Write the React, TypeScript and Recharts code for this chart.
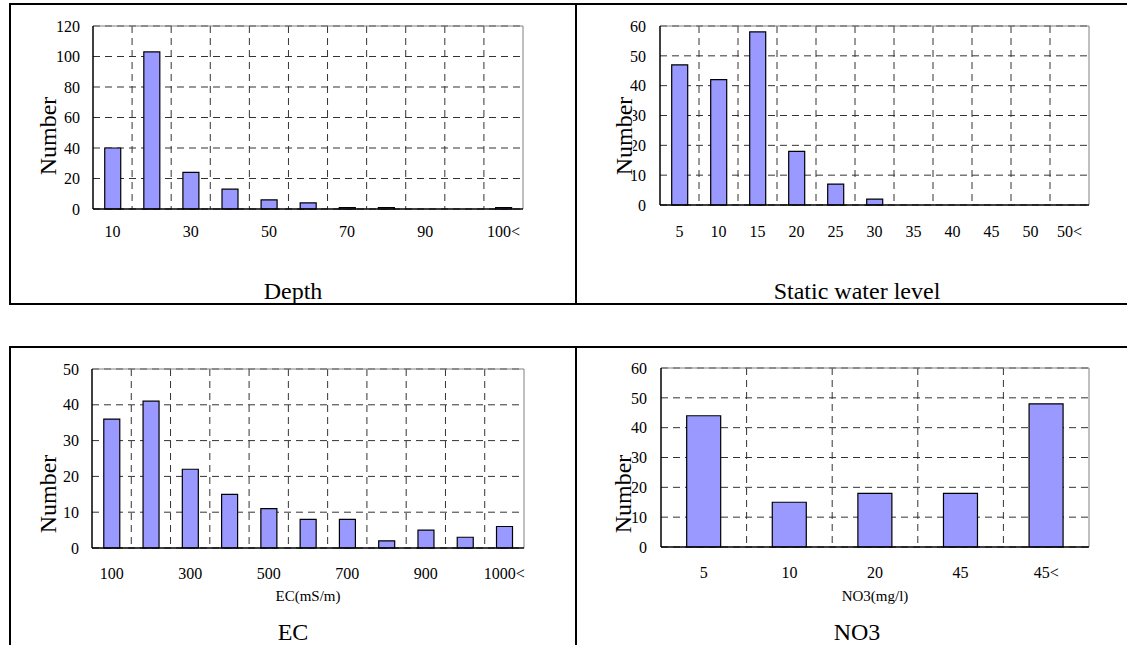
import { BarChart, Bar, XAxis, YAxis, CartesianGrid } from "recharts";

const depthCategories = ["10", "20", "30", "40", "50", "60", "70", "80", "90", "100", "100<"];
const depthValues = [40, 103, 24, 13, 6, 4, 1, 1, 0, 0, 1];
const depthTicks = [0, 20, 40, 60, 80, 100, 120];

const levelCategories = ["5", "10", "15", "20", "25", "30", "35", "40", "45", "50", "50<"];
const levelValues = [47, 42, 58, 18, 7, 2, 0, 0, 0, 0, 0];
const levelTicks = [0, 10, 20, 30, 40, 50, 60];

const ecCategories = ["100", "200", "300", "400", "500", "600", "700", "800", "900", "1000", "1000<"];
const ecValues = [36, 41, 22, 15, 11, 8, 8, 2, 5, 3, 6];
const ecTicks = [0, 10, 20, 30, 40, 50];

const no3Categories = ["5", "10", "20", "45", "45<"];
const no3Values = [44, 15, 18, 18, 48];
const no3Ticks = [0, 10, 20, 30, 40, 50, 60];

const FONT = "Liberation Serif, Times New Roman, serif";

// dashed lines on the category boundaries, like Excel's "between categories" grid
const boundaries = (n: number) => ({ offset }: any) =>
  Array.from({ length: n - 1 }, (_, i) => offset.left + ((i + 1) * offset.width) / n);

type PanelProps = {
  categories: string[];
  values: number[];
  ticks: number[];
  x: number;
  y: number;
  width: number;
  height: number;
  margin: { top: number; right: number; bottom: number; left: number };
  tickGap: number;
  yGap: number;
  interval: number;
};

function Panel({ categories, values, ticks, x, y, width, height, margin, tickGap, yGap, interval }: PanelProps) {
  const data = categories.map((c, i) => ({ name: c, count: values[i] }));
  const n = categories.length;
  return (
    <div style={{ position: "absolute", left: x, top: y }}>
      <BarChart
        width={width}
        height={height}
        data={data}
        margin={margin}
        barCategoryGap="30%"
        style={{ fontFamily: FONT }}
      >
        <CartesianGrid
          stroke="#333"
          strokeDasharray="7 5"
          verticalCoordinatesGenerator={boundaries(n)}
        />
        <CartesianGrid
          stroke="#808080"
          horizontalCoordinatesGenerator={({ offset }: any) => [offset.top]}
          verticalCoordinatesGenerator={({ offset }: any) => [offset.left + offset.width]}
        />
        <XAxis
          dataKey="name"
          interval={interval}
          height={30}
          tickLine={false}
          tickSize={0}
          tickMargin={tickGap}
          axisLine={{ stroke: "#000", strokeWidth: 1.5 }}
          tick={{ fill: "#000", fontSize: 16, fontFamily: FONT }}
        />
        <YAxis
          domain={[ticks[0], ticks[ticks.length - 1]]}
          ticks={ticks}
          width={40}
          tickLine={false}
          tickSize={0}
          tickMargin={yGap}
          axisLine={{ stroke: "#000", strokeWidth: 1.5 }}
          tick={{ fill: "#000", fontSize: 16, fontFamily: FONT }}
        />
        <Bar dataKey="count" fill="#9999FF" stroke="#000" strokeWidth={1.2} isAnimationActive={false} />
      </BarChart>
    </div>
  );
}

function Label({ x, y, size, text, rotate }: { x: number; y: number; size: number; text: string; rotate?: boolean }) {
  return (
    <div
      style={{
        position: "absolute",
        left: x,
        top: y,
        transform: `translate(-50%, -50%)${rotate ? " rotate(-90deg)" : ""}`,
        fontSize: size,
        lineHeight: rotate ? 0.75 : 1,
        whiteSpace: "nowrap",
        background: rotate ? "#fff" : undefined,
        color: "#000",
      }}
    >
      {text}
    </div>
  );
}

const line = (left: number, top: number, width: number, height: number) => (
  <div style={{ position: "absolute", left, top, width, height, background: "#000" }} />
);

export default function App() {
  return (
    <div
      style={{
        position: "absolute",
        left: 0,
        top: 0,
        width: 1127,
        height: 645,
        overflow: "hidden",
        background: "#fff",
        fontFamily: FONT,
      }}
    >
      <Panel
        categories={depthCategories}
        values={depthValues}
        ticks={depthTicks}
        x={11}
        y={5}
        width={564}
        height={298}
        margin={{ top: 21, right: 52, bottom: 64, left: 42 }}
        tickGap={17}
        yGap={13}
        interval={1}
      />
      <Panel
        categories={levelCategories}
        values={levelValues}
        ticks={levelTicks}
        x={577}
        y={5}
        width={550}
        height={298}
        margin={{ top: 21, right: 38, bottom: 68, left: 43 }}
        tickGap={21}
        yGap={14}
        interval={0}
      />
      <Panel
        categories={ecCategories}
        values={ecValues}
        ticks={ecTicks}
        x={11}
        y={348}
        width={564}
        height={297}
        margin={{ top: 21, right: 51, bottom: 67, left: 41 }}
        tickGap={20}
        yGap={13}
        interval={1}
      />
      <Panel
        categories={no3Categories}
        values={no3Values}
        ticks={no3Ticks}
        x={577}
        y={348}
        width={550}
        height={297}
        margin={{ top: 20, right: 38, bottom: 68, left: 44 }}
        tickGap={20}
        yGap={14}
        interval={0}
      />

      {line(9, 3, 1127, 2)}
      {line(9, 303, 568, 2)}
      {line(575, 303, 560, 2)}
      {line(9, 3, 2, 302)}
      {line(575, 3, 2, 302)}
      {line(9, 346, 1127, 2)}
      {line(9, 346, 2, 300)}
      {line(575, 346, 2, 300)}

      <Label x={48} y={136} size={24} text="Number" rotate />
      <Label x={624} y={136} size={24} text="Number" rotate />
      <Label x={48} y={494} size={24} text="Number" rotate />
      <Label x={623} y={494} size={24} text="Number" rotate />

      <Label x={293} y={291} size={24} text="Depth" />
      <Label x={857} y={291} size={24} text="Static water level" />
      <Label x={308} y={596} size={15} text="EC(mS/m)" />
      <Label x={875} y={596} size={15} text="NO3(mg/l)" />
      <Label x={293} y={632} size={24} text="EC" />
      <Label x={857} y={632} size={24} text="NO3" />
    </div>
  );
}
